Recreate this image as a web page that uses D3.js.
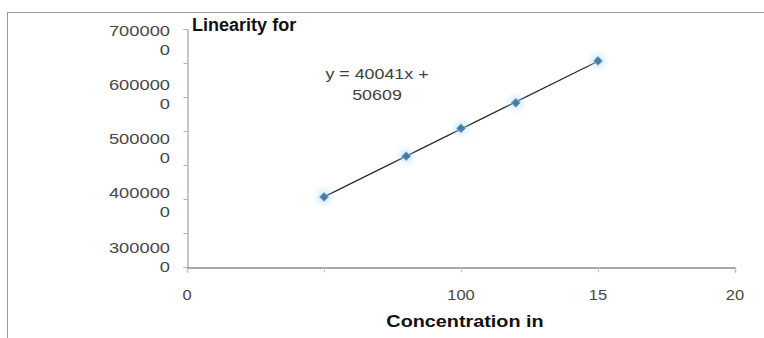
<!DOCTYPE html>
<html>
<head>
<meta charset="utf-8">
<script src="https://cdn.jsdelivr.net/npm/d3@7"></script>
<style>
  html, body { margin: 0; padding: 0; background: #fff; }
  svg { display: block; }
  text { font-family: "Liberation Sans", Arial, sans-serif; }
</style>
</head>
<body>
<svg id="chart" width="764" height="338"></svg>
<script>
// ---- data ----
const concentrations = [5, 8, 10, 12, 15];
const responses = [206000, 326000, 408000, 483000, 606000];
const xTickValues = [0, 5, 10, 15, 20];
const xTickLabels = ["0", "", "100", "15", "20"];
const yTickValues = [0, 100000, 200000, 300000, 400000, 500000, 600000, 700000];
const yTickLabels = ["700000 0", "600000 0", "500000 0", "400000 0", "300000 0"];
const chartTitle = "Linearity for";
const xAxisTitle = "Concentration in";
const equationLines = ["y = 40041x +", "50609"];

// ---- layout ----
const svg = d3.select("#chart");
const W = 764, H = 338;
const plot = { left: 187, right: 735, top: 29, bottom: 267 };

const x = d3.scaleLinear().domain([0, 20]).range([plot.left, plot.right]);
const y = d3.scaleLinear().domain([0, 700000]).range([plot.bottom, plot.top]);

// helper: draw text with horizontal stretch to mimic the reference's wide glyphs
function stretchedText(g, str, px, py, anchor, factor, attrs) {
  const t = g.append("text").attr("y", py).attr("text-anchor", "start").text(str);
  Object.entries(attrs || {}).forEach(([k, v]) => t.style(k, v));
  t.attr("x", 0);
  const w = t.node().getComputedTextLength();
  const tw = w * factor;
  t.attr("textLength", tw).attr("lengthAdjust", "spacingAndGlyphs");
  let sx = px;
  if (anchor === "middle") sx = px - tw / 2;
  else if (anchor === "end") sx = px - tw;
  t.attr("x", sx);
  return t;
}

// frame
svg.append("line").attr("x1", 7).attr("x2", W).attr("y1", 12.5).attr("y2", 12.5)
  .attr("stroke", "#9a9a9a").attr("stroke-width", 1);
svg.append("line").attr("x1", 7.5).attr("x2", 7.5).attr("y1", 12).attr("y2", H)
  .attr("stroke", "#9a9a9a").attr("stroke-width", 1);

// y axis
const yAxis = d3.axisLeft(y).tickValues(yTickValues).tickSize(4).tickFormat("");
const gy = svg.append("g").attr("transform", `translate(${plot.left + 0.5},0)`).call(yAxis);
gy.select(".domain").attr("stroke", "#8c8c8c");
gy.selectAll(".tick line").attr("stroke", "#b0b0b0");

// x axis
const xAxis = d3.axisBottom(x).tickValues(xTickValues).tickSize(5).tickFormat("");
const gx = svg.append("g").attr("transform", `translate(0,${plot.bottom + 0.5})`).call(xAxis);
gx.select(".domain").attr("stroke", "#8c8c8c").attr("stroke-width", 1.3);
gx.selectAll(".tick line").attr("stroke", "#c4c4c4");

// y tick labels (wrapped two-line labels)
const yLab = d3.scalePoint().domain(yTickLabels).range([39.5, 256.5]);
const gyl = svg.append("g");
yTickLabels.forEach(lbl => {
  const parts = lbl.split(" ");
  const cy = yLab(lbl);
  stretchedText(gyl, parts[0], 170, cy - 4, "end", 1.22, { "font-size": "15px", "fill": "#474747" });
  stretchedText(gyl, parts[1], 170, cy + 15, "end", 1.22, { "font-size": "15px", "fill": "#474747" });
});

// x tick labels
const gxl = svg.append("g");
xTickValues.forEach((v, i) => {
  if (xTickLabels[i]) {
    stretchedText(gxl, xTickLabels[i], x(v), 300, "middle", 1.1, { "font-size": "15px", "fill": "#474747" });
  }
});

// trendline (least squares fit of the plotted points)
const mx = d3.mean(concentrations), my = d3.mean(responses);
const slope = d3.sum(concentrations, (c, i) => (c - mx) * (responses[i] - my)) /
              d3.sum(concentrations, c => (c - mx) * (c - mx));
const intercept = my - slope * mx;
const xExt = d3.extent(concentrations);
svg.append("path")
  .datum(xExt.map(c => [c, slope * c + intercept]))
  .attr("d", d3.line().x(d => x(d[0])).y(d => y(d[1])))
  .attr("stroke", "#2b2b2b").attr("stroke-width", 1.2).attr("fill", "none");

// markers with soft glow
const defs = svg.append("defs");
const f = defs.append("filter").attr("id", "glow").attr("x", "-100%").attr("y", "-100%")
  .attr("width", "300%").attr("height", "300%");
f.append("feGaussianBlur").attr("stdDeviation", 3);

const pts = concentrations.map((c, i) => ({ c, r: responses[i] }));
svg.append("g").selectAll("path.glow").data(pts).join("path")
  .attr("class", "glow")
  .attr("transform", d => `translate(${x(d.c)},${y(d.r)})`)
  .attr("d", d3.symbol().type(d3.symbolCircle).size(170))
  .attr("fill", "#b3dcf2").attr("opacity", 0.55).attr("filter", "url(#glow)");
svg.append("g").selectAll("path.pt").data(pts).join("path")
  .attr("class", "pt")
  .attr("transform", d => `translate(${x(d.c)},${y(d.r)}) rotate(45)`)
  .attr("d", d3.symbol().type(d3.symbolSquare).size(38))
  .attr("fill", "#467ba6").attr("stroke", "#6c9fc6").attr("stroke-width", 0.8);

// chart title
stretchedText(svg, chartTitle, 192, 31, "start", 1.03,
  { "font-size": "17.5px", "font-weight": "bold", "fill": "#111" });

// equation label
stretchedText(svg, equationLines[0], 377, 79, "middle", 1.19, { "font-size": "15px", "fill": "#404040" });
stretchedText(svg, equationLines[1], 377, 100, "middle", 1.19, { "font-size": "15px", "fill": "#404040" });

// x axis title
stretchedText(svg, xAxisTitle, 465, 327, "middle", 1.2,
  { "font-size": "16.5px", "font-weight": "bold", "fill": "#111" });
</script>
</body>
</html>
